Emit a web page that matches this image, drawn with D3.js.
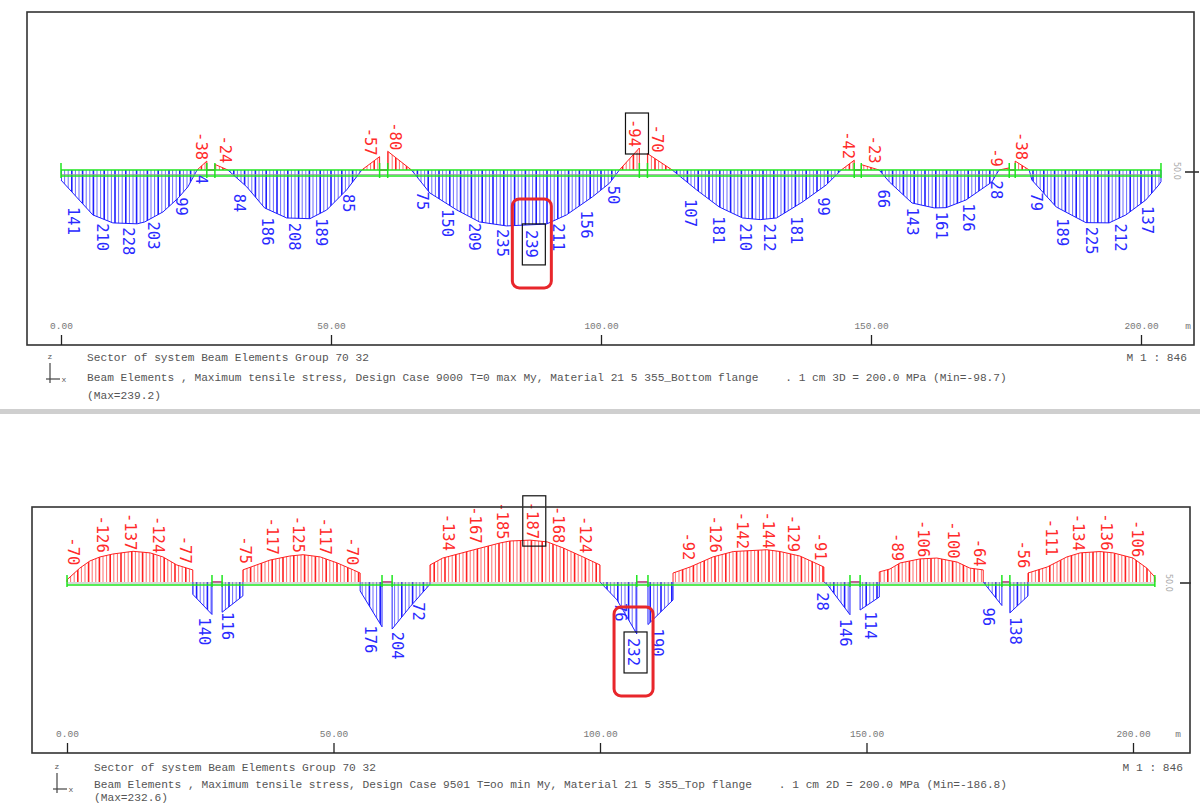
<!DOCTYPE html>
<html><head><meta charset="utf-8">
<script src="https://cdn.jsdelivr.net/npm/d3@7"></script>
<style>body{margin:0;background:#fff}svg{display:block}</style>
</head><body><svg id="c" width="1200" height="804"></svg>
<script>
// ---------------- DATA: top panel (bottom flange, design case 9000) ----------------
const topStations=[0,5.9,9.6,14.1,15.5,18.9,21.7,23.5,25.2,27.0,27.0,28.5,28.5,30.9,
 34.4,37.7,41.8,46.1,49.2,52.9,55.7,59.0,59.0,60.5,60.5,64.9,
 68.3,73.3,77.5,82.5,89.9,93.6,98.4,101.6,103.4,107.1,107.1,108.6,108.6,113.2,
 117.7,121.9,126.2,129.5,132.5,137.3,141.7,144.5,146.9,146.9,148.2,148.2,151.5,
 153.4,157.6,161.7,163.9,167.6,172.4,173.7,175.6,175.6,176.7,176.7,179.3,
 179.8,184.3,189.8,194.1,197.2,200.9,203.3,203.7,203.7];
const topValues=[43,192,226,230,222,179,120,72,0,-38,0,0,-24,0,
 72,162,205,208,171,85,0,-57,0,0,-80,0,
 98,171,222,239,231,192,115,56,0,-94,0,0,-70,0,
 85,158,205,212,205,137,64,0,-42,0,0,-23,0,
 51,141,162,161,128,51,0,-9,0,0,-38,0,
 43,158,225,226,192,128,64,50,0];
const topLabelStations=[2.2,7.6,12.4,17.0,22.2,25.9,25.9,30.3,32.9,38.1,43.1,48.1,53.1,57.2,61.8,66.8,71.4,76.4,81.6,87.1,92.1,97.3,102.3,106.2,110.3,116.4,121.6,126.6,131.2,136.2,141.2,145.8,150.6,152.3,157.5,163.0,168.0,173.2,173.2,177.8,180.6,185.4,190.8,196.1,201.1];
const topLabelValues=[141,210,228,203,99,4,-38,-24,84,186,208,189,85,-57,-80,75,150,209,235,239,211,156,50,-94,-70,107,181,210,212,181,99,-42,-23,66,143,161,126,28,-9,-38,79,189,225,212,137];
const topSupports=[0,27.0,28.5,59.0,60.5,107.1,108.6,146.9,148.2,175.6,176.7,203.7];
const topBoxed=["239","-94"];
const topMarked="239";
const topCaption=["Sector of system Beam Elements Group 70 32",
 "Beam Elements , Maximum tensile stress, Design Case 9000 T=0 max My, Material 21 5 355_Bottom flange    . 1 cm 3D = 200.0 MPa (Min=-98.7)",
 "(Max=239.2)"];

// ---------------- DATA: bottom panel (top flange, design case 9501) ----------------
const botStations=[0,0,2.4,4.3,6.2,8.6,12.4,15.6,18.0,20.6,22.5,23.6,23.6,
 23.6,27.2,27.2,29.1,29.1,33.0,33.0,
 33.0,38.1,41.8,44.3,47.5,50.7,53.7,55.0,55.0,
 55.0,59.1,59.1,61.0,61.0,64.4,68.1,68.1,
 68.1,70.5,76.2,81.2,83.1,86.9,90.1,93.1,96.8,100.0,100.0,
 103.2,106.9,106.9,109.0,109.0,113.7,113.7,
 113.7,116.9,121.2,125.0,131.3,133.8,137.5,140.0,142.0,142.0,
 142.6,146.9,146.9,148.8,148.8,152.4,152.4,
 152.4,154.4,156.3,160.0,163.2,167.0,169.4,171.9,171.9,
 175.4,175.4,176.9,176.9,180.3,180.3,
 180.3,183.9,187.6,190.1,193.8,196.3,200.0,202.6,204.1,204.1];
const botValues=[0,-10,-62,-94,-112,-125,-137,-130,-112,-76,-62,-54,0,
 55,145,0,0,135,62,0,
 -54,-98,-116,-122,-112,-85,-54,-40,0,
 40,200,0,0,210,110,10,0,
 -76,-107,-143,-174,-183,-187,-179,-152,-112,-76,0,
 80,232,0,0,190,80,0,
 -40,-67,-112,-136,-144,-136,-116,-89,-67,0,
 10,146,0,0,125,67,0,
 -45,-58,-85,-103,-107,-89,-62,-54,0,
 105,0,0,138,62,0,
 -40,-67,-112,-130,-136,-130,-107,-62,-22,0];
const botLabelStations=[1.1,6.6,11.8,17.1,22.1,25.7,30.0,33.4,38.5,43.3,48.4,53.5,56.9,61.9,65.9,71.5,76.6,81.6,87.2,92.1,97.2,103.8,106.2,110.7,116.5,121.6,126.6,131.5,136.2,141.3,141.7,146.0,150.7,155.7,160.6,166.2,171.1,172.8,177.9,179.4,184.6,189.7,194.9,200.8];
const botLabelValues=[-70,-126,-137,-124,-77,140,116,-75,-117,-125,-117,-70,176,204,72,-134,-167,-185,-187,-168,-124,76,232,190,-92,-126,-142,-144,-129,-91,28,146,114,-89,-106,-100,-64,96,138,-56,-111,-134,-136,-106];
const botSupports=[0,27.2,29.1,59.1,61.0,106.9,109.0,146.9,148.8,175.4,176.9,204.1];
const botBoxed=["-187","232"];
const botMarked="232";
const botCaption=["Sector of system Beam Elements Group 70 32",
 "Beam Elements , Maximum tensile stress, Design Case 9501 T=oo min My, Material 21 5 355_Top flange    . 1 cm 2D = 200.0 MPa (Min=-186.8)",
 "(Max=232.6)"];

const tickValues=[0,50,100,150,200];
const scaleText="M 1 : 846";

// ---------------- DRAWING ----------------
const BLUE="#1e1eff", RED="#ff2020", GREEN="#1ee61e", GRAY="#555";
const svg=d3.select("#c");
svg.append("rect").attr("width",1200).attr("height",804).attr("fill","#fff");
svg.append("rect").attr("x",0).attr("y",409).attr("width",1200).attr("height",5).attr("fill","#cfcfcf");

function panel(c){
  const g=svg.append("g");
  const x=d3.scaleLinear().domain([0,200]).range(c.xRange);
  const y=d3.scaleLinear().domain([0,100]).range([c.base,c.base+c.px100]);
  const pts=c.stations.map((s,i)=>[s,c.values[i]]);
  const defs=g.append("defs");
  const aPos=d3.area().x(d=>x(d[0])).y0(y(0)).y1(d=>y(Math.max(0,d[1])));
  const aNeg=d3.area().x(d=>x(d[0])).y0(y(0)).y1(d=>y(Math.min(0,d[1])));
  defs.append("clipPath").attr("id",c.id+"pos").append("path").attr("d",aPos(pts));
  defs.append("clipPath").attr("id",c.id+"neg").append("path").attr("d",aNeg(pts));
  const xa=x(c.stations[0]), xb=x(c.stations[c.stations.length-1]);
  const hatch=d3.range(xa,xb+1,3.6);
  [["pos",BLUE,d=>d[1]>=0],["neg",RED,d=>d[1]<=0]].forEach(([k,col,def])=>{
    g.append("g").attr("clip-path",`url(#${c.id+k})`)
      .selectAll("line").data(hatch).join("line")
      .attr("x1",d=>d).attr("x2",d=>d).attr("y1",c.base-90).attr("y2",c.base+90)
      .attr("stroke",col).attr("stroke-width",(d,i)=>i%3===0?1.6:1)
      .attr("stroke-opacity",(d,i)=>i%3===0?1:0.65);
    g.append("path").attr("d",d3.line().defined(def).x(d=>x(d[0])).y(d=>y(d[1]))(pts))
      .attr("fill","none").attr("stroke",col).attr("stroke-width",1);
  });
  c.greens.forEach(gy=>g.append("line").attr("x1",xa).attr("x2",xb).attr("y1",gy).attr("y2",gy)
     .attr("stroke",GREEN).attr("stroke-width",1.6));
  g.append("line").attr("x1",xa).attr("x2",xb).attr("y1",c.grayLine).attr("y2",c.grayLine)
     .attr("stroke","#999").attr("stroke-width",0.8);
  g.selectAll("line.sup").data(c.supports).join("line").attr("class","sup")
    .attr("x1",d=>x(d)).attr("x2",d=>x(d)).attr("y1",c.base-7).attr("y2",c.greens[c.greens.length-1]+2)
    .attr("stroke",GREEN).attr("stroke-width",1.5);
  const labels=c.lStations.map((s,i)=>({s,v:c.lValues[i]}));
  const FS=15.5, CW=FS*0.602;
  g.selectAll("text.lbl").data(labels).join("text").attr("class","lbl")
    .attr("transform",d=>`translate(${x(d.s)},${d.v>=0?y(d.v)+4:y(d.v)-1}) rotate(90)`)
    .attr("text-anchor",d=>d.v>=0?"start":"end")
    .attr("dominant-baseline","central")
    .attr("fill",d=>d.v>=0?"#2a2aff":"#ff2a2a")
    .style("font",`${FS}px 'DejaVu Sans Mono'`)
    .text(d=>String(d.v));
  function extent(d){
    const L=String(d.v).length*CW;
    const y0=d.v>=0?y(d.v)+4:y(d.v)-1-L;
    return {cx:x(d.s),y0,y1:y0+L};
  }
  labels.filter(d=>c.boxed.includes(String(d.v))).forEach(d=>{
    const e=extent(d);
    g.append("rect").attr("x",e.cx-9).attr("y",e.y0-6).attr("width",23).attr("height",e.y1-e.y0+13)
      .attr("fill","none").attr("stroke","#111").attr("stroke-width",1.2);
  });
  labels.filter(d=>String(d.v)===c.marked).forEach(d=>{
    const e=extent(d);
    g.append("rect").attr("x",e.cx-19).attr("y",e.y0-31).attr("width",39).attr("height",e.y1-e.y0+61)
      .attr("rx",7).attr("fill","none").attr("stroke","#e8262b").attr("stroke-width",3);
  });
  g.append("text").attr("transform",`translate(${c.refX},${c.base-8}) rotate(90)`)
    .attr("dominant-baseline","central").attr("fill","#aaa").style("font","8px 'DejaVu Sans'").text("50.0");
  g.append("line").attr("x1",c.dash[0]).attr("x2",c.dash[1]).attr("y1",c.dashY).attr("y2",c.dashY)
    .attr("stroke","#222").attr("stroke-width",1.5);
  const f=c.frame;
  g.append("rect").attr("x",f[0]).attr("y",f[1]).attr("width",f[2]-f[0]).attr("height",f[3]-f[1])
    .attr("fill","none").attr("stroke","#333").attr("stroke-width",1.6);
  g.append("g").attr("transform",`translate(0,${f[3]})`)
    .call(d3.axisTop(x).tickValues(tickValues).tickFormat(d3.format(".2f")).tickSize(10).tickPadding(6))
    .call(a=>a.select(".domain").remove())
    .call(a=>a.selectAll("line").attr("stroke","#222").attr("stroke-width",1.3))
    .call(a=>a.selectAll("text").attr("fill","#777").style("font","9.5px 'Liberation Mono'"));
  g.append("text").attr("x",c.mX).attr("y",f[3]-16).attr("text-anchor","middle")
    .attr("fill","#777").style("font","9.5px 'Liberation Mono'").text("m");
  c.caption.forEach((t,i)=>g.append("text").attr("x",c.capX).attr("y",c.capY[i])
    .attr("fill",GRAY).style("font","11.2px 'Liberation Mono'").style("white-space","pre").attr("xml:space","preserve").text(t));
  g.append("text").attr("x",c.scaleX).attr("y",c.capY[0]).attr("text-anchor","end")
    .attr("fill",GRAY).style("font","11.2px 'Liberation Mono'").text(scaleText);
  const ix=c.icon[0], iy=c.icon[1];
  g.append("text").attr("x",ix).attr("y",iy).attr("text-anchor","middle").attr("fill",GRAY).style("font","8px 'Liberation Mono'").text("z");
  g.append("line").attr("x1",ix).attr("x2",ix).attr("y1",iy+4).attr("y2",iy+24).attr("stroke","#444").attr("stroke-width",1.2);
  g.append("line").attr("x1",ix-4).attr("x2",ix+10).attr("y1",iy+20).attr("y2",iy+20).attr("stroke","#444").attr("stroke-width",1.2);
  g.append("text").attr("x",ix+14).attr("y",iy+23).attr("text-anchor","middle").attr("fill",GRAY).style("font","8px 'Liberation Mono'").text("x");
}

panel({id:"t",xRange:[61,1141],base:170,px100:23.4,stations:topStations,values:topValues,
  lStations:topLabelStations,lValues:topLabelValues,supports:topSupports,boxed:topBoxed,marked:topMarked,
  greens:[170,176],grayLine:174.5,frame:[27,12,1194,345],mX:1188,refX:1176,dash:[1185,1199],dashY:172,
  caption:topCaption,capX:87,capY:[361,381,399],scaleX:1187,icon:[50,359]});
panel({id:"b",xRange:[67,1133],base:582,px100:22.4,stations:botStations,values:botValues,
  lStations:botLabelStations,lValues:botLabelValues,supports:botSupports,boxed:botBoxed,marked:botMarked,
  greens:[585],grayLine:583,frame:[32,507,1190,753],mX:1178,refX:1168,dash:[1180,1191],dashY:583,
  caption:botCaption,capX:94,capY:[771,788,801],scaleX:1183,icon:[57,769]});
</script></body></html>
